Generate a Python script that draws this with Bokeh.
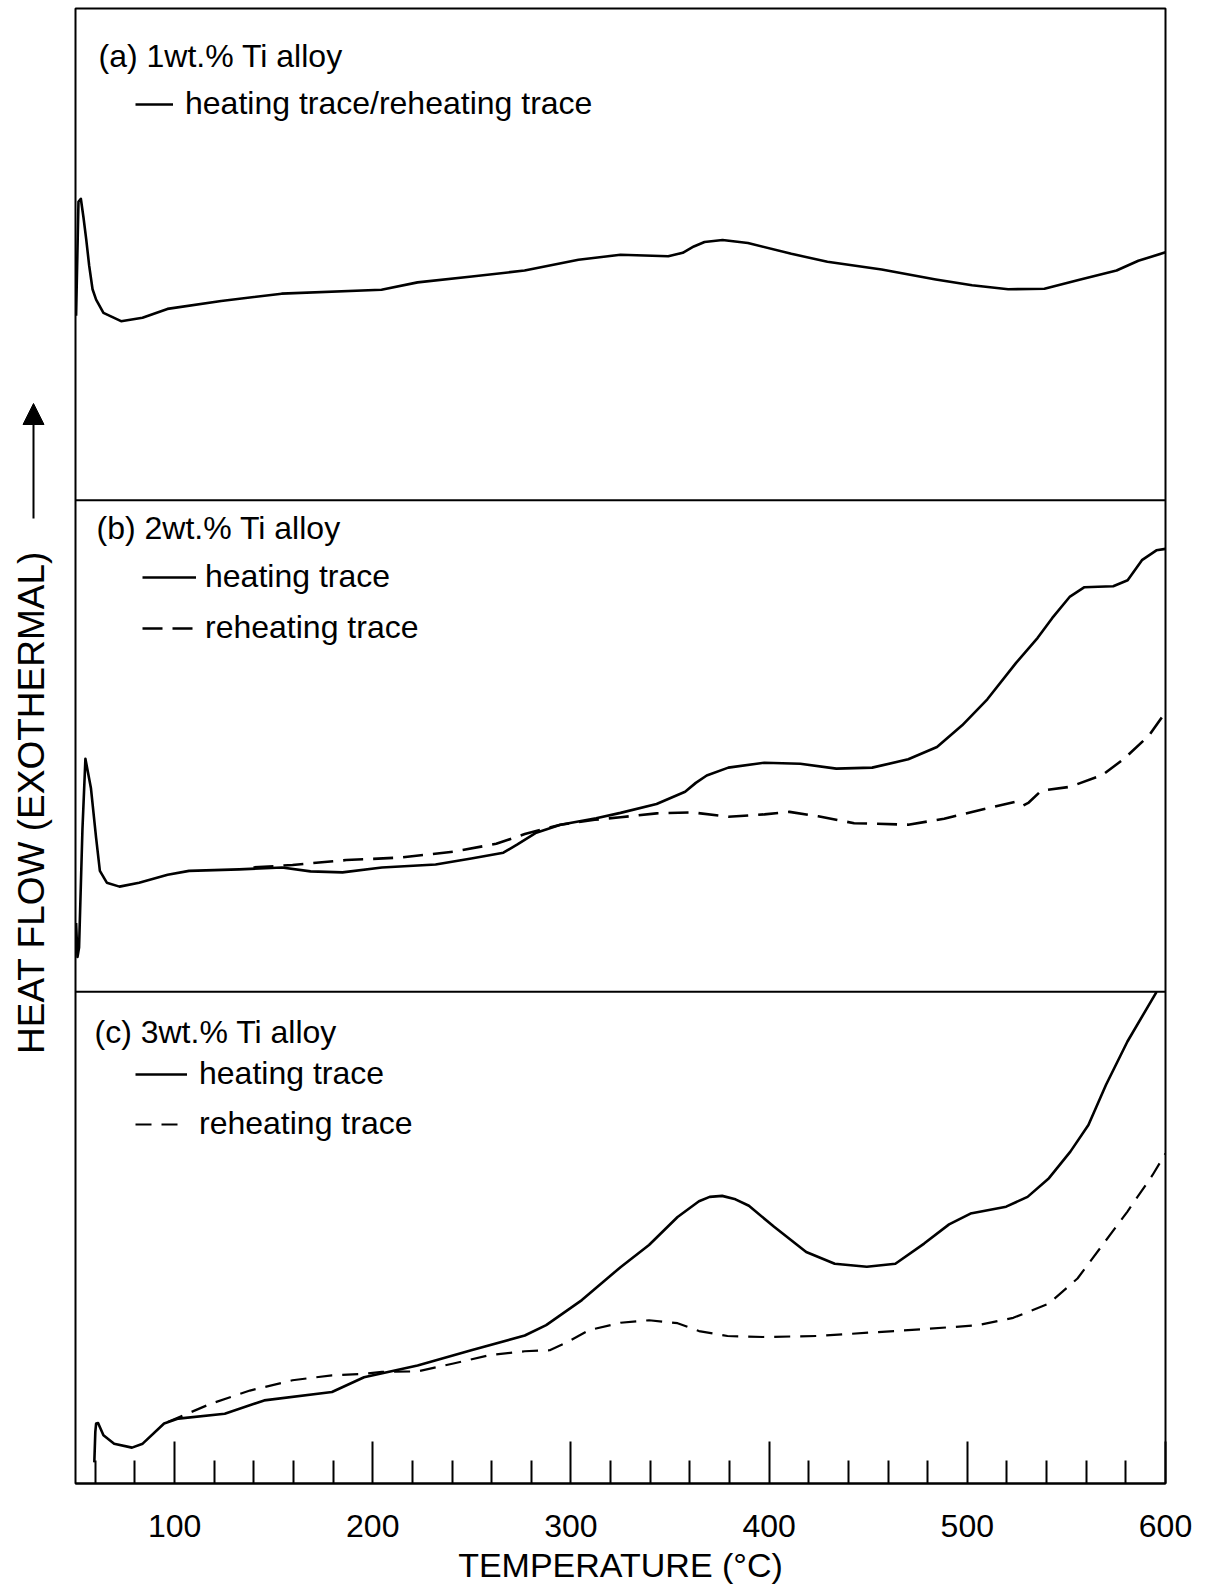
import math
from bokeh.plotting import figure
from bokeh.layouts import row
from bokeh.models import (Range1d, FixedTicker, Span, Label, Legend, LegendItem,
                          Arrow, NormalHead)
from bokeh.embed import file_html
from bokeh.resources import INLINE

# ---------------- data (temperature in deg C, heat flow in arbitrary units 0-100 per panel)
a_temp = [50.3, 51.5, 52.7, 54.0, 55.4, 56.9, 58.6, 60.4, 64.1, 73.0, 83.8, 96.4, 123.5,
          154.0, 204.4, 222.6, 250.0, 276.6, 303.8, 325.0, 349.1, 356.4, 362.0, 367.4,
          376.5, 389.3, 411.2, 429.4, 456.8, 484.1, 502.4, 520.6, 538.9, 557.1, 575.3,
          586.3, 600.0]
a_heat = [37.5, 60.7, 61.3, 57.6, 53.1, 47.7, 42.9, 40.8, 38.1, 36.4, 37.1, 38.9, 40.5,
          42.0, 42.8, 44.3, 45.5, 46.7, 48.9, 49.9, 49.6, 50.3, 51.6, 52.5,
          52.9, 52.3, 50.1, 48.5, 46.9, 44.9, 43.7, 42.9, 43.0, 44.9, 46.7,
          48.7, 50.4]

b_temp = [50.3, 51.0, 51.8, 53.5, 55.0, 57.8, 60.4, 62.3, 65.8, 72.2, 82.1, 96.5, 107.3,
          132.6, 154.2, 168.6, 184.7, 204.6, 231.7, 249.7, 265.9, 273.0, 282.1, 294.7,
          312.7, 325.0, 343.2, 357.6, 363.0, 368.5, 379.4, 397.6, 415.7, 433.9, 452.0,
          470.2, 484.7, 497.4, 510.1, 524.6, 535.5, 542.8, 551.8, 559.1, 566.0, 573.6,
          580.9, 588.1, 595.4, 600.0]
b_heat = [14.0, 7.1, 9.0, 33.0, 47.4, 41.4, 31.3, 24.6, 22.2, 21.4, 22.2, 23.8, 24.6,
          24.9, 25.3, 24.5, 24.3, 25.3, 25.9, 27.1, 28.3, 30.0, 32.3, 34.0,
          35.3, 36.4, 38.2, 40.7, 42.5, 44.0, 45.6, 46.6, 46.4, 45.4, 45.6,
          47.3, 49.8, 54.2, 59.5, 66.9, 72.0, 76.0, 80.4, 82.3, 82.4, 82.5,
          83.7, 87.8, 89.8, 90.1]
b_retemp = [139.8, 159.5, 186.6, 213.6, 240.7, 262.3, 276.7, 294.7, 312.0, 325.0, 343.2,
            361.4, 379.4, 397.6, 410.3, 424.8, 442.9, 470.2, 488.3, 506.5, 524.6, 528.2,
            531.0, 537.3, 551.8, 568.2, 579.1, 591.8, 600.0]
b_reheat = [25.3, 25.8, 26.8, 27.3, 28.5, 30.1, 32.1, 34.0, 35.0, 35.5, 36.3,
            36.5, 35.6, 36.1, 36.6, 35.7, 34.3, 34.0, 35.2, 37.0, 38.7, 37.9,
            38.5, 40.9, 41.7, 44.1, 47.4, 52.2, 56.9]

c_temp = [59.5, 60.0, 60.4, 61.4, 62.5, 64.1, 69.5, 78.5, 83.9, 94.7, 101.9, 125.3, 145.2,
          179.4, 195.6, 222.6, 249.7, 276.7, 287.5, 305.5, 325.0, 339.4, 353.8, 364.6,
          370.0, 376.3, 383.0, 389.8, 402.5, 418.7, 433.1, 449.3, 463.7, 478.2, 490.8,
          501.6, 519.6, 530.4, 541.2, 552.0, 561.1, 570.0, 580.8, 595.5]
c_heat = [4.3, 10.5, 12.2, 12.3, 11.3, 9.8, 8.1, 7.3, 8.1, 12.2, 13.2, 14.2, 16.9,
          18.6, 21.6, 24.0, 27.1, 30.1, 32.2, 37.3, 44.0, 48.5, 54.2, 57.4,
          58.3, 58.5, 57.8, 56.5, 52.2, 47.1, 44.7, 44.1, 44.7, 48.8, 52.7,
          54.9, 56.3, 58.3, 62.1, 67.5, 72.9, 81.1, 89.9, 100.0]
c_retemp = [96.5, 118.1, 138.0, 159.5, 179.4, 195.6, 204.6, 222.6, 240.7, 258.7, 276.7,
            289.3, 298.3, 309.2, 325.0, 339.4, 353.8, 364.6, 379.0, 397.1, 424.1, 451.2,
            478.2, 505.2, 523.2, 541.2, 555.6, 568.2, 580.8, 593.4, 600.0]
c_reheat = [12.5, 16.2, 18.9, 21.0, 22.0, 22.3, 22.7, 22.8, 24.4, 26.1, 26.9,
            27.1, 28.8, 31.2, 32.7, 33.2, 32.6, 31.0, 30.0, 29.8, 30.0, 30.7,
            31.4, 32.2, 33.7, 36.6, 41.7, 48.5, 55.3, 62.7, 67.1]

major_ticks = [100, 200, 300, 400, 500, 600]
minor_ticks = [60, 80, 120, 140, 160, 180, 220, 240, 260, 280, 320, 340, 360, 380,
               420, 440, 460, 480, 520, 540, 560, 580]

panel_titles = ["(a) 1wt.% Ti alloy", "(b) 2wt.% Ti alloy", "(c)  3wt.% Ti alloy"]
x_title = "TEMPERATURE (°C)"
y_title = "HEAT FLOW (EXOTHERMAL)"

FONT = "Liberation Sans"
TXT = "32px"

H = 1587
LEFT_W = 70
TOP, BOTTOM = 8, 1483          # frame edges on the page (px)

# ---------------- left strip holding the vertical axis title and arrow
# its frame is aligned with the main frame, so a reversed pixel range maps 1:1 to page y
q = figure(width=LEFT_W, height=H, x_range=Range1d(0, LEFT_W), y_range=Range1d(BOTTOM, TOP),
           output_backend="svg", toolbar_location=None, x_axis_location=None,
           y_axis_location=None, min_border_left=0, min_border_right=0,
           min_border_top=TOP, min_border_bottom=H - BOTTOM)
q.grid.visible = False
q.outline_line_color = None
q.background_fill_color = "white"
q.border_fill_color = "white"
q.text(x=[31], y=[802], text=[y_title], angle=math.pi / 2, text_align="center",
       text_baseline="middle", text_font_size="37px", text_color="black",
       text_font={"value": FONT})
q.add_layout(Arrow(end=NormalHead(size=21, fill_color="black", line_color="black"),
                   x_start=33, y_start=518, x_end=33, y_end=403,
                   line_color="black", line_width=2))

# ---------------- main plot
p = figure(width=1218 - LEFT_W, height=H, x_range=Range1d(50, 600), y_range=Range1d(0, 300),
           output_backend="svg", toolbar_location=None, y_axis_location=None,
           min_border_left=5, min_border_right=53, min_border_top=TOP,
           min_border_bottom=H - BOTTOM)
p.extra_y_ranges = {"a": Range1d(-200, 100), "b": Range1d(-100, 200)}
p.grid.visible = False
p.outline_line_color = "black"
p.outline_line_width = 2
p.background_fill_color = "white"
p.border_fill_color = "white"

ax = p.xaxis[0]
ax.ticker = FixedTicker(ticks=major_ticks, minor_ticks=minor_ticks)
ax.major_tick_in = 42
ax.major_tick_out = 0
ax.minor_tick_in = 23
ax.minor_tick_out = 0
ax.major_tick_line_width = 2
ax.minor_tick_line_width = 2
ax.major_tick_line_color = "black"
ax.minor_tick_line_color = "black"
ax.axis_line_width = 2
ax.axis_line_color = "black"
ax.major_label_text_font = FONT
ax.major_label_text_font_size = "32px"
ax.major_label_text_color = "black"
ax.major_label_standoff = 31
ax.axis_label = x_title
ax.axis_label_text_font = FONT
ax.axis_label_text_font_size = "34px"
ax.axis_label_text_font_style = "normal"
ax.axis_label_text_color = "black"
ax.axis_label_standoff = 6

# panel separators
for loc in (100, 200):
    p.add_layout(Span(location=loc, dimension="width", line_color="black", line_width=2))

LW = 2.6
ra = p.line(a_temp, a_heat, y_range_name="a", line_color="black", line_width=LW, line_join="round")
rbh = p.line(b_temp, b_heat, y_range_name="b", line_color="black", line_width=LW, line_join="round")
rbr = p.line(b_retemp, b_reheat, y_range_name="b", line_color="black", line_width=LW,
             line_dash="20 10", line_join="round")
rch = p.line(c_temp, c_heat, line_color="black", line_width=LW, line_join="round")
rcr = p.line(c_retemp, c_reheat, line_color="black", line_width=LW - 0.4,
             line_dash="16 10", line_join="round")


def make_legend(items, loc, gw, standoff, spacing):
    lg = Legend(items=items, location=loc, padding=0, margin=0, spacing=spacing,
                glyph_width=gw, glyph_height=36, label_height=36, label_standoff=standoff,
                label_text_font=FONT, label_text_font_size=TXT, label_text_color="black",
                border_line_alpha=0, background_fill_alpha=0)
    p.add_layout(lg)


make_legend([LegendItem(label="heating trace/reheating trace", renderers=[ra])],
            (60, 1361), 38, 12, 0)
make_legend([LegendItem(label="heating trace", renderers=[rbh]),
             LegendItem(label="reheating trace", renderers=[rbr])],
            (67, 837), 54, 9, 14)
make_legend([LegendItem(label="heating trace", renderers=[rch]),
             LegendItem(label="reheating trace", renderers=[rcr])],
            (60, 341), 52, 12, 13)

# panel titles
for txt, (lx, ly) in zip(panel_titles, [(23, 1428), (21, 956), (19, 452)]):
    p.add_layout(Label(x=lx, y=ly, x_units="screen", y_units="screen", text=txt,
                       text_font=FONT, text_font_size=TXT, text_color="black",
                       text_baseline="middle", text_align="left"))

layout = row(q, p, spacing=0)
open("out.html", "w").write(file_html(layout, INLINE))
